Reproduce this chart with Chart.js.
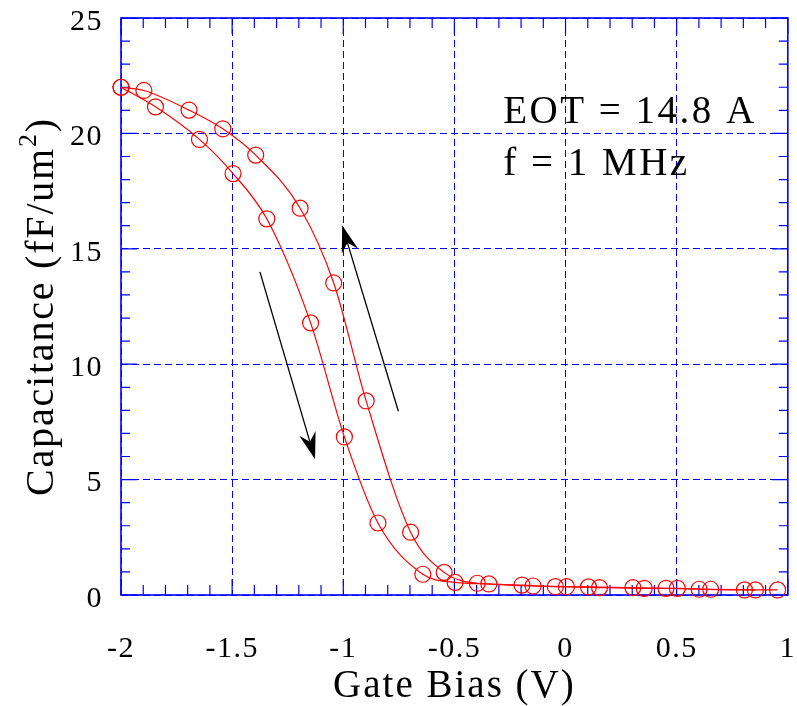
<!DOCTYPE html>
<html>
<head>
<meta charset="utf-8">
<script src="https://cdn.jsdelivr.net/npm/chart.js@4.4.1/dist/chart.umd.min.js"></script>
<style>
  html, body { margin: 0; padding: 0; background: #fff; }
  canvas { display: block; }
</style>
</head>
<body>
<canvas id="cv" width="797" height="706"></canvas>
<script>
// C-V hysteresis, marker points: gate bias (V) / capacitance (fF/um^2)
const sweepDownV = [-2, -1.845, -1.647, -1.496, -1.344, -1.147, -0.995, -0.844, -0.642, -0.497, -0.345, -0.146, 0.004, 0.153, 0.354, 0.503, 0.653, 0.854];
const sweepDownC = [22.0, 21.15, 19.74, 18.26, 16.30, 11.79, 6.85, 3.12, 0.90, 0.55, 0.48, 0.39, 0.36, 0.32, 0.29, 0.29, 0.25, 0.22];
const sweepUpV = [-2, -1.897, -1.694, -1.542, -1.394, -1.194, -1.043, -0.897, -0.697, -0.546, -0.397, -0.196, -0.046, 0.103, 0.303, 0.452, 0.601, 0.805, 0.954];
const sweepUpC = [22.0, 21.86, 21.01, 20.2, 19.06, 16.76, 13.52, 8.41, 2.72, 0.98, 0.51, 0.43, 0.36, 0.35, 0.32, 0.29, 0.25, 0.22, 0.22];

const xTicks = [-2, -1.5, -1, -0.5, 0, 0.5, 1];
const yTicks = [0, 5, 10, 15, 20, 25];

// sweep direction arrows, [from, to] in data units
const arrowDown = [[-1.375, 14.0], [-1.127, 5.88]];
const arrowUp = [[-0.752, 7.96], [-1.005, 16.02]];

const noteLines = ['EOT = 14.8 A', 'f = 1 MHz'];
const noteAt = [[-0.28, 20.47], [-0.28, 18.2]];

const xTitle = 'Gate Bias (V)';
const yTitle = ['Capacitance (fF/um', '2', ')'];

const blue = '#0000ff';
const red = '#ff0000';
const serif = "'Liberation Serif', 'Times New Roman', serif";

const toPoints = (xs, ys) => xs.map((v, i) => ({ x: v, y: ys[i] }));

function drawArrow(ctx, x, y, seg) {
  const x0 = x.getPixelForValue(seg[0][0]), y0 = y.getPixelForValue(seg[0][1]);
  const x1 = x.getPixelForValue(seg[1][0]), y1 = y.getPixelForValue(seg[1][1]);
  const len = Math.hypot(x1 - x0, y1 - y0);
  const ux = (x1 - x0) / len, uy = (y1 - y0) / len;
  const head = 27, half = 8.5;
  const bx = x1 - ux * head, by = y1 - uy * head;
  const nx = x1 - ux * head * 0.68, ny = y1 - uy * head * 0.68;
  ctx.beginPath();
  ctx.moveTo(x0, y0);
  ctx.lineTo(nx, ny);
  ctx.stroke();
  ctx.beginPath();
  ctx.moveTo(x1, y1);
  ctx.lineTo(bx - uy * half, by + ux * half);
  ctx.lineTo(nx, ny);
  ctx.lineTo(bx + uy * half, by - ux * half);
  ctx.closePath();
  ctx.fill();
}

const plotFrame = {
  id: 'plotFrame',
  beforeLayout(chart) { chart.ctx.letterSpacing = '1.5px'; },
  beforeDraw(chart) { chart.ctx.letterSpacing = '1.5px'; },
  beforeDatasetsDraw(chart) {
    const { ctx, chartArea: a, scales: { x, y } } = chart;
    ctx.save();
    ctx.strokeStyle = blue;
    ctx.lineWidth = 1.2;
    ctx.beginPath();
    for (let i = 0; i <= 30; i++) {
      const px = x.getPixelForValue(-2 + i * 0.1);
      const len = i % 5 === 0 ? 16 : 10;
      ctx.moveTo(px, a.bottom); ctx.lineTo(px, a.bottom - len);
      ctx.moveTo(px, a.top); ctx.lineTo(px, a.top + len);
    }
    for (let i = 0; i <= 25; i++) {
      const py = y.getPixelForValue(i);
      const len = i % 5 === 0 ? 16 : 9;
      ctx.moveTo(a.left, py); ctx.lineTo(a.left + len, py);
      ctx.moveTo(a.right, py); ctx.lineTo(a.right - len, py);
    }
    ctx.stroke();
    ctx.lineWidth = 1.6;
    ctx.strokeRect(a.left, a.top, a.right - a.left, a.bottom - a.top);
    ctx.restore();
  },
  afterDatasetsDraw(chart) {
    const { ctx, scales: { x, y } } = chart;
    ctx.save();
    ctx.strokeStyle = '#000';
    ctx.fillStyle = '#000';
    ctx.lineWidth = 1.3;
    drawArrow(ctx, x, y, arrowDown);
    drawArrow(ctx, x, y, arrowUp);
    ctx.font = '39px ' + serif;
    ctx.letterSpacing = '2.5px';
    ctx.textAlign = 'left';
    ctx.textBaseline = 'alphabetic';
    noteLines.forEach((t, i) => {
      ctx.fillText(t, x.getPixelForValue(noteAt[i][0]), y.getPixelForValue(noteAt[i][1]));
    });
    ctx.restore();
  },
  afterDraw(chart) {
    const { ctx, chartArea: a } = chart;
    ctx.save();
    ctx.fillStyle = '#000';
    ctx.letterSpacing = '2px';
    ctx.textBaseline = 'alphabetic';
    // x axis title
    ctx.font = '39px ' + serif;
    ctx.textAlign = 'center';
    ctx.fillText(xTitle, (a.left + a.right) / 2, 697);
    // y axis title with superscript
    ctx.letterSpacing = '1.8px';
    ctx.textAlign = 'left';
    const big = '40px ' + serif, small = '26px ' + serif;
    ctx.font = big;
    const w0 = ctx.measureText(yTitle[0]).width;
    const w2 = ctx.measureText(yTitle[2]).width;
    ctx.font = small;
    const w1 = ctx.measureText(yTitle[1]).width;
    const total = w0 + w1 + w2;
    ctx.translate(53, (a.top + a.bottom) / 2);
    ctx.rotate(-Math.PI / 2);
    let cx = -total / 2;
    ctx.font = big;
    ctx.fillText(yTitle[0], cx, 0);
    cx += w0;
    ctx.font = small;
    ctx.fillText(yTitle[1], cx, -17);
    cx += w1;
    ctx.font = big;
    ctx.fillText(yTitle[2], cx, 0);
    ctx.restore();
  }
};

const curveStyle = {
  showLine: true,
  borderColor: red,
  borderWidth: 1.2,
  pointStyle: 'circle',
  pointRadius: 8,
  pointBorderColor: red,
  pointBorderWidth: 1.2,
  pointBackgroundColor: 'rgba(0,0,0,0)',
  cubicInterpolationMode: 'monotone',
  clip: false
};

new Chart(document.getElementById('cv'), {
  type: 'scatter',
  data: {
    datasets: [
      Object.assign({ label: 'sweep down', data: toPoints(sweepDownV, sweepDownC) }, curveStyle),
      Object.assign({ label: 'sweep up', data: toPoints(sweepUpV, sweepUpC) }, curveStyle)
    ]
  },
  options: {
    responsive: false,
    animation: false,
    layout: { padding: { left: 0, right: 5, top: 18, bottom: 0 } },
    plugins: { legend: { display: false }, tooltip: { enabled: false } },
    scales: {
      x: {
        type: 'linear',
        min: -2,
        max: 1,
        afterBuildTicks: s => { s.ticks = xTicks.map(v => ({ value: v })); },
        afterFit: s => {
          s.height = 111;
          s.paddingLeft = 0;
          s.paddingRight = 0;
        },
        ticks: {
          callback: v => String(v),
          font: { family: serif, size: 30 },
          color: '#000',
          padding: 36,
          maxRotation: 0,
          autoSkip: false
        },
        grid: { color: blue, lineWidth: 1, drawTicks: false },
        border: { display: false, dash: [7, 4] }
      },
      y: {
        type: 'linear',
        min: 0,
        max: 25,
        afterBuildTicks: s => { s.ticks = yTicks.map(v => ({ value: v })); },
        afterFit: s => {
          s.width = 121;
          s.paddingTop = 0;
          s.paddingBottom = 0;
        },
        ticks: {
          callback: v => String(v),
          font: { family: serif, size: 30 },
          color: '#000',
          padding: 18,
          labelOffset: 4
        },
        grid: { color: blue, lineWidth: 1, drawTicks: false },
        border: { display: false, dash: [7, 4] }
      }
    }
  },
  plugins: [plotFrame]
});
</script>
</body>
</html>
